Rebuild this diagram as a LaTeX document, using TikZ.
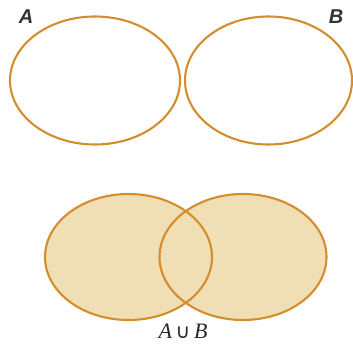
\documentclass[tikz,border=0pt]{standalone}
\usepackage{fontspec}
\setmainfont{Liberation Serif}
\newfontfamily\lblfont{Liberation Sans}
\newfontfamily\symfont{DejaVu Sans}
\definecolor{edge}{HTML}{D48C2C}
\definecolor{fillc}{HTML}{F0DFB5}
\begin{document}
\begin{tikzpicture}[x=1pt,y=-1pt,
  setline/.style={draw=edge,line width=2.1pt},
  setfill/.style={fill=fillc},
  lbl/.style={font=\lblfont\bfseries\itshape\fontsize{20}{20}\selectfont,text=black!80,inner sep=0pt},
  ulbl/.style={font=\fontsize{22}{22}\selectfont,text=black!85,inner sep=0pt}]
\useasboundingbox (0,0) rectangle (353,345);
% top sets
\draw[setline] (95,80.5) ellipse [x radius=85,y radius=64];
\draw[setline] (268.5,80.5) ellipse [x radius=83.5,y radius=64];
\node[lbl] (la) at (26,17) {A};
\node[lbl] (lb) at (336,17) {B};
% bottom union
\fill[setfill] (128.5,257) ellipse [x radius=83.5,y radius=63];
\fill[setfill] (243,257) ellipse [x radius=83.5,y radius=63];
\draw[setline] (128.5,257) ellipse [x radius=83.5,y radius=63];
\draw[setline] (243,257) ellipse [x radius=83.5,y radius=63];
\node[ulbl] (lu) at (183,331) {\textit{A}\,{\symfont\fontsize{20}{20}\selectfont∪}\,\textit{B}};
\end{tikzpicture}
\end{document}
